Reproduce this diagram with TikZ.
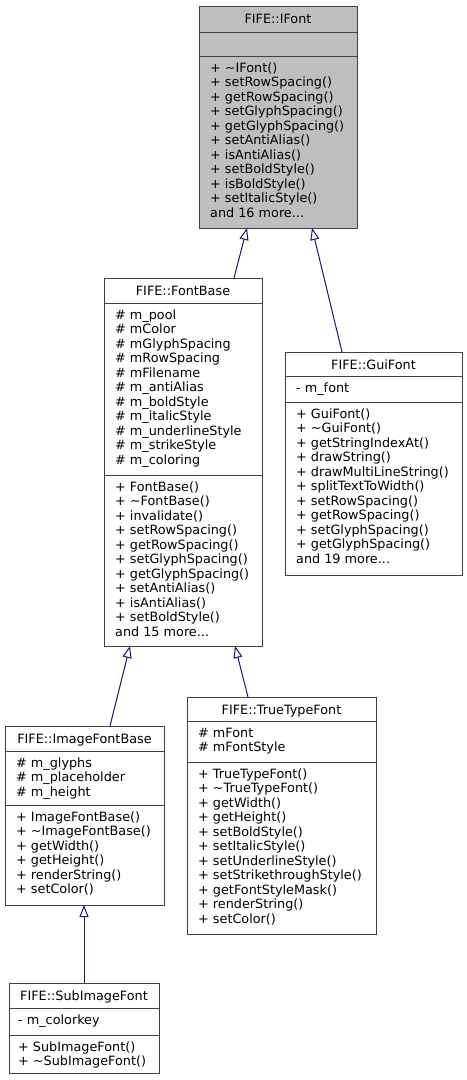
\documentclass[tikz,border=0pt]{standalone}
\usepackage{fontspec}
\setmainfont{DejaVu Sans}
\usetikzlibrary{arrows.meta,calc}
\definecolor{edgecol}{HTML}{191970}
\definecolor{bordcol}{HTML}{404040}
\definecolor{grayfill}{HTML}{BFBFBF}
\tikzset{
  classbox/.style={draw=bordcol, line width=1bp, inner sep=0pt, outer sep=0pt},
  divider/.style={draw=bordcol, line width=1bp},
  txt/.style={anchor=base west, inner sep=0pt, font=\fontsize{12.8bp}{14bp}\selectfont},
  ttl/.style={anchor=base, inner sep=0pt, font=\fontsize{12.8bp}{14bp}\selectfont},
  inh/.style={draw=edgecol, line width=1bp, -{Triangle[open, length=12bp, width=9bp]}}
}
\newcommand{\mydots}{...}
\newcommand{\mkbox}[6]{% name, x1, y1, x2, y2, fill
  \node[classbox, fill=#6, minimum width={(#4-#2)*1bp}, minimum height={(#5-#3)*1bp}] (#1) at ({(#2+#4)/2},{(#3+#5)/2}) {};}
\newcommand{\mkdiv}[2]{% name, offset from top
  \draw[divider] ($(#1.north west)+(0,#2)$) -- ($(#1.north east)+(0,#2)$);}
\newcommand{\mlines}[4]{% prefix, x, y0, list
  \foreach \t [count=\i from 0] in {#4} {\node[txt] (#1\i) at (#2,{#3+\i*14.5}) {\t};}}
\begin{document}
\begin{tikzpicture}[x=1bp,y=-1bp]
\useasboundingbox (0,0) rectangle (467,1080);
\fill[white] (0,0) rectangle (467,1080);

% IFont
\mkbox{ifont}{199}{6}{357}{228}{grayfill}
\mkdiv{ifont}{26}
\mkdiv{ifont}{50}
\node[ttl] (ifont-t) at (278,23) {FIFE::IFont};
\mlines{ifont-m}{210}{72}{+ \textasciitilde IFont(), + setRowSpacing(), + getRowSpacing(), + setGlyphSpacing(), + getGlyphSpacing(), + setAntiAlias(), + isAntiAlias(), + setBoldStyle(), + isBoldStyle(), + setItalicStyle(), and 16 more\mydots}

% FontBase
\mkbox{fontbase}{104}{278}{262}{646}{white}
\mkdiv{fontbase}{25}
\mkdiv{fontbase}{197}
\node[ttl] (fontbase-t) at (183,295) {FIFE::FontBase};
\mlines{fontbase-a}{115}{319}{\# m\_pool, \# mColor, \# mGlyphSpacing, \# mRowSpacing, \# mFilename, \# m\_antiAlias, \# m\_boldStyle, \# m\_italicStyle, \# m\_underlineStyle, \# m\_strikeStyle, \# m\_coloring}
\mlines{fontbase-m}{115}{491}{+ FontBase(), + \textasciitilde FontBase(), + invalidate(), + setRowSpacing(), + getRowSpacing(), + setGlyphSpacing(), + getGlyphSpacing(), + setAntiAlias(), + isAntiAlias(), + setBoldStyle(), and 15 more\mydots}

% GuiFont
\mkbox{guifont}{285}{352}{462}{575}{white}
\mkdiv{guifont}{24}
\mkdiv{guifont}{50}
\node[ttl] (guifont-t) at (373.5,369) {FIFE::GuiFont};
\mlines{guifont-a}{296}{392}{- m\_font}
\mlines{guifont-m}{296}{418}{+ GuiFont(), + \textasciitilde GuiFont(), + getStringIndexAt(), + drawString(), + drawMultiLineString(), + splitTextToWidth(), + setRowSpacing(), + getRowSpacing(), + setGlyphSpacing(), + getGlyphSpacing(), and 19 more\mydots}

% ImageFontBase
\mkbox{imagefontbase}{5}{726}{164}{905}{white}
\mkdiv{imagefontbase}{25}
\mkdiv{imagefontbase}{79}
\node[ttl] (imagefontbase-t) at (84.5,743) {FIFE::ImageFontBase};
\mlines{imagefontbase-a}{16}{767}{\# m\_glyphs, \# m\_placeholder, \# m\_height}
\mlines{imagefontbase-m}{16}{821}{+ ImageFontBase(), + \textasciitilde ImageFontBase(), + getWidth(), + getHeight(), + renderString(), + setColor()}

% TrueTypeFont
\mkbox{truetypefont}{187}{697}{376}{934}{white}
\mkdiv{truetypefont}{24}
\mkdiv{truetypefont}{65}
\node[ttl] (truetypefont-t) at (281.5,714) {FIFE::TrueTypeFont};
\mlines{truetypefont-a}{198}{737}{\# mFont, \# mFontStyle}
\mlines{truetypefont-m}{198}{778}{+ TrueTypeFont(), + \textasciitilde TrueTypeFont(), + getWidth(), + getHeight(), + setBoldStyle(), + setItalicStyle(), + setUnderlineStyle(), + setStrikethroughStyle(), + getFontStyleMask(), + renderString(), + setColor()}

% SubImageFont
\mkbox{subimagefont}{9}{983}{159}{1073}{white}
\mkdiv{subimagefont}{25}
\mkdiv{subimagefont}{52}
\node[ttl] (subimagefont-t) at (84,1000) {FIFE::SubImageFont};
\mlines{subimagefont-a}{18}{1024}{- m\_colorkey}
\mlines{subimagefont-m}{18}{1051}{+ SubImageFont(), + \textasciitilde SubImageFont()}

% inheritance edges
\draw[inh] ($(fontbase.north west)+(130,0)$) -- ($(ifont.south west)+(48,0)$);
\draw[inh] ($(guifont.north west)+(57,0)$) -- ($(ifont.south west)+(113,0)$);
\draw[inh] ($(imagefontbase.north west)+(105,0)$) -- ($(fontbase.south west)+(26,0)$);
\draw[inh] ($(truetypefont.north west)+(61,0)$) -- ($(fontbase.south west)+(131,0)$);
\draw[inh] ($(subimagefont.north west)+(75,0)$) -- ($(imagefontbase.south west)+(79,0)$);
\end{tikzpicture}
\end{document}
